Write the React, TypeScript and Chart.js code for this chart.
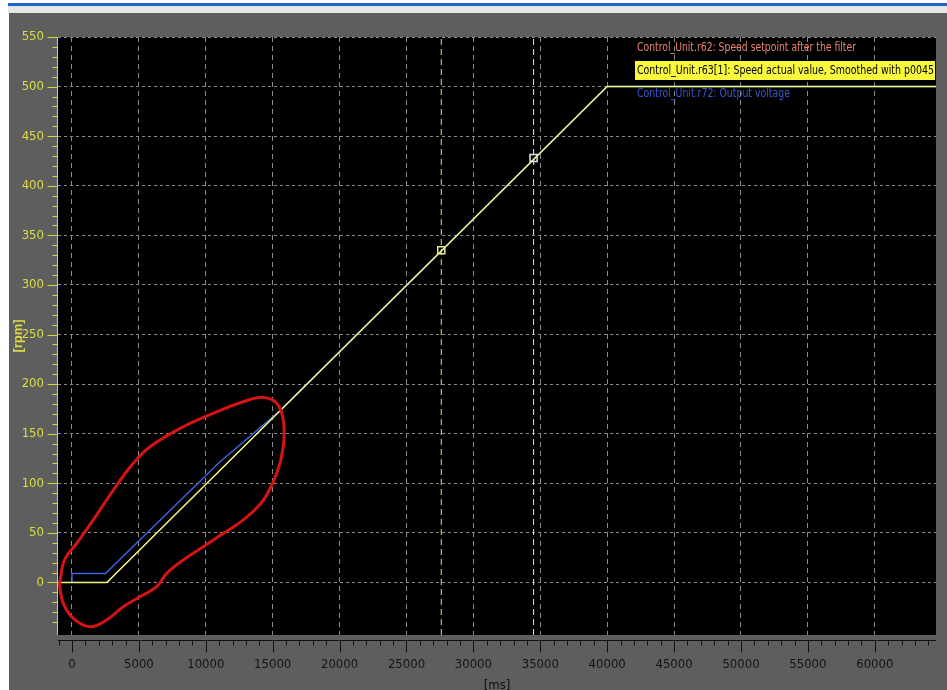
import React, { useEffect, useRef } from "react";
import { Chart, registerables } from "chart.js";

Chart.register(...registerables);

// ---- axis ranges / ticks ----
const X_MIN = -1046;
const X_MAX = 64575;
const Y_MIN = -53;
const Y_MAX = 550;
const X_TICKS = [0, 5000, 10000, 15000, 20000, 25000, 30000, 35000, 40000, 45000, 50000, 55000, 60000];
const Y_TICKS = [0, 50, 100, 150, 200, 250, 300, 350, 400, 450, 500, 550];
const X_MINOR = 1000;
const Y_MINOR = 10;

// ---- series ----
const seriesLabels = [
  "Control_Unit.r62: Speed setpoint after the filter",
  "Control_Unit.r63[1]: Speed actual value, Smoothed with p0045",
  "Control_Unit.r72: Output voltage",
];
const setpointTime = [-2000, 2600, 40000, 66000];
const setpointValue = [0, 0, 500, 500];
const actualTime = [-2000, 2600, 40000, 66000];
const actualValue = [0, 0, 500, 500];
const voltageTime = [0, 0, 2500, 11000, 15500, 40000, 66000];
const voltageValue = [0, 9, 9, 121, 172.5, 500, 500];

// ---- measurement cursors ----
const cursorTimes = [27600, 34500];
const cursorValues = [335, 428];

// ---- hand-drawn red annotation loop ----
const circleTime = [
  -920, -560, 350, 1590, 3090, 4580, 5830, 8320, 10820, 12800, 14300, 15300,
  15790, 15790, 15300, 14300, 12800, 11310, 9810, 8320, 7080, 6330, 5080,
  3830, 2590, 1350, 100, -650, -920, -920,
];
const circleValue = [
  -1, 22.6, 39.4, 63, 93.2, 120.1, 136.8, 157, 172.1, 182.2, 186.6, 180.6,
  163.8, 136.8, 110, 83.1, 63, 49.5, 36, 22.6, 9.2, -4.3, -14.4, -24.5, -37.9,
  -44.7, -36.2, -21.1, -4.3, -1,
];

const NARROW = "'Liberation Sans Narrow', 'Arial Narrow', 'DejaVu Sans Condensed', 'Liberation Sans', sans-serif";

const pts = (xs: number[], ys: number[]) => xs.map((x, i) => ({ x, y: ys[i] }));

const bgPlugin = {
  id: "bgPanel",
  beforeDraw(chart: any) {
    const { ctx, width, height, chartArea: a } = chart;
    ctx.save();
    ctx.fillStyle = "#ffffff";
    ctx.fillRect(0, 0, width, height);
    ctx.fillStyle = "#1d66c9";
    ctx.fillRect(8, 3, width - 8, 3);
    ctx.fillStyle = "#e6e6e6";
    ctx.fillRect(8, 6, width - 8, 7);
    ctx.fillStyle = "#5e5e5e";
    ctx.fillRect(9, 13, width - 9, height - 13);
    ctx.fillStyle = "#000000";
    ctx.fillRect(a.left, a.top, a.right - a.left, a.bottom - a.top);
    ctx.restore();
  },
};

const axesPlugin = {
  id: "axesMarks",
  afterDraw(chart: any) {
    const { ctx, chartArea: a, scales } = chart;
    const xs = scales.x;
    const ys = scales.y;
    ctx.save();
    ctx.lineWidth = 1;
    ctx.setLineDash([]);
    // y axis (yellow)
    ctx.strokeStyle = "#d6d63c";
    ctx.beginPath();
    const ax = a.left - 0.5;
    ctx.moveTo(ax, a.top);
    ctx.lineTo(ax, a.bottom);
    for (let v = -40; v <= Y_MAX; v += Y_MINOR) {
      const p = Math.round(ys.getPixelForValue(v)) + 0.5;
      const len = Y_TICKS.includes(v) ? 10 : 5;
      ctx.moveTo(ax - len, p);
      ctx.lineTo(ax, p);
    }
    ctx.stroke();
    // x axis (black)
    ctx.strokeStyle = "#111111";
    ctx.beginPath();
    const ay = a.bottom + 5.5;
    ctx.moveTo(a.left, ay);
    ctx.lineTo(a.right, ay);
    for (let v = -1000; v <= X_MAX; v += X_MINOR) {
      const p = Math.round(xs.getPixelForValue(v)) + 0.5;
      const len = X_TICKS.includes(v) ? 12 : 5;
      ctx.moveTo(p, ay);
      ctx.lineTo(p, ay + len);
    }
    ctx.stroke();
    ctx.restore();
  },
};

const legendPlugin = {
  id: "scopeLegend",
  afterDraw(chart: any) {
    const { ctx, chartArea: a } = chart;
    const ds = chart.data.datasets.filter((d: any) => d.legendColor);
    const right = a.right;
    const rows = [
      { y: 48, width: 219 },
      { y: 71, width: 297 },
      { y: 94, width: 153 },
    ];
    ctx.save();
    ctx.font = "13px " + NARROW;
    ctx.textBaseline = "middle";
    ds.forEach((d: any, i: number) => {
      const r = rows[i];
      const x0 = right - 299;
      if (d.legendBox) {
        ctx.fillStyle = d.legendBox;
        ctx.fillRect(right - 301, 61, 300, 19);
      }
      const w = ctx.measureText(d.label).width;
      const s = r.width / w;
      ctx.save();
      ctx.translate(x0, r.y);
      ctx.scale(s, 1);
      ctx.fillStyle = d.legendColor;
      ctx.fillText(d.label, 0, 0);
      ctx.restore();
    });
    ctx.restore();
  },
};

export default function App() {
  const ref = useRef<HTMLCanvasElement | null>(null);

  useEffect(() => {
    document.body.style.margin = "0";
    document.body.style.overflow = "hidden";
    const canvas = ref.current;
    if (!canvas) return;

    const datasets: any[] = [
      {
        label: seriesLabels[0],
        data: pts(setpointTime, setpointValue),
        borderColor: "#e87a64",
        borderWidth: 1,
        showLine: true,
        pointRadius: 0,
        order: 4,
        legendColor: "#e8836e",
      },
      {
        label: seriesLabels[1],
        data: pts(actualTime, actualValue),
        borderColor: "#f2f27a",
        borderWidth: 1.5,
        showLine: true,
        pointRadius: 0,
        order: 2,
        legendColor: "#000000",
        legendBox: "#f8f83c",
      },
      {
        label: seriesLabels[2],
        data: pts(voltageTime, voltageValue),
        borderColor: "#3c64dc",
        borderWidth: 1.5,
        showLine: true,
        pointRadius: 0,
        order: 3,
        legendColor: "#3658d0",
      },
      {
        label: "cursor 1",
        data: [
          { x: cursorTimes[0], y: Y_MIN },
          { x: cursorTimes[0], y: Y_MAX },
        ],
        borderColor: "#e4e46a",
        borderWidth: 1,
        borderDash: [6, 4],
        showLine: true,
        pointRadius: 0,
        order: 6,
      },
      {
        label: "cursor 2",
        data: [
          { x: cursorTimes[1], y: Y_MIN },
          { x: cursorTimes[1], y: Y_MAX },
        ],
        borderColor: "#e6e6e6",
        borderWidth: 1,
        borderDash: [6, 4],
        showLine: true,
        pointRadius: 0,
        order: 6,
      },
      {
        label: "cursor markers",
        data: pts(cursorTimes, cursorValues),
        showLine: false,
        pointStyle: "rect",
        pointRadius: 5,
        pointBorderWidth: 1.5,
        pointBackgroundColor: "rgba(0,0,0,0)",
        pointBorderColor: ["#e8e890", "#e8e8e8"],
        order: 1,
      },
      {
        label: "annotation",
        data: pts(circleTime, circleValue),
        borderColor: "#d41414",
        borderWidth: 3,
        showLine: true,
        tension: 0.4,
        pointRadius: 0,
        clip: 4,
        order: 0,
      },
    ];

    const chart = new Chart(canvas, {
      type: "scatter",
      data: { datasets },
      options: {
        animation: false,
        responsive: false,
        maintainAspectRatio: false,
        layout: { padding: { left: 8, top: 37, right: 11, bottom: -2 } },
        plugins: { legend: { display: false }, tooltip: { enabled: false } },
        scales: {
          x: {
            type: "linear",
            min: X_MIN,
            max: X_MAX,
            afterFit: (s: any) => {
              s.height = 57;
            },
            afterBuildTicks: (s: any) => {
              s.ticks = X_TICKS.map((v) => ({ value: v }));
            },
            ticks: {
              color: "#141414",
              padding: 22,
              maxRotation: 0,
              minRotation: 0,
              autoSkip: false,
              font: { family: NARROW, size: 13 },
              callback: (v: any) => String(v),
            },
            grid: { color: "#8a8a8a", lineWidth: 1, drawTicks: false },
            border: { display: false, dash: [5, 4] },
            title: {
              display: true,
              text: "[ms]",
              color: "#111111",
              font: { family: NARROW, size: 13, lineHeight: 1 },
              padding: { top: 0, bottom: 0 },
            },
          },
          y: {
            type: "linear",
            min: Y_MIN,
            max: Y_MAX,
            afterFit: (s: any) => {
              s.width = 50;
            },
            afterBuildTicks: (s: any) => {
              s.ticks = Y_TICKS.map((v) => ({ value: v }));
            },
            ticks: {
              color: "#dcdc44",
              padding: 14,
              autoSkip: false,
              font: { family: NARROW, size: 13 },
              callback: (v: any) => String(v),
            },
            grid: { color: "#8a8a8a", lineWidth: 1, drawTicks: false },
            border: { display: false, dash: [3, 3] },
            title: {
              display: true,
              text: "[rpm]",
              color: "#dcdc44",
              font: { family: "'Liberation Sans', sans-serif", size: 13, weight: "bold" },
              padding: { top: 3, bottom: 0 },
            },
          },
        },
      },
      plugins: [bgPlugin, axesPlugin, legendPlugin],
    } as any);

    return () => chart.destroy();
  }, []);

  return <canvas ref={ref} width={947} height={690} style={{ display: "block" }} />;
}
